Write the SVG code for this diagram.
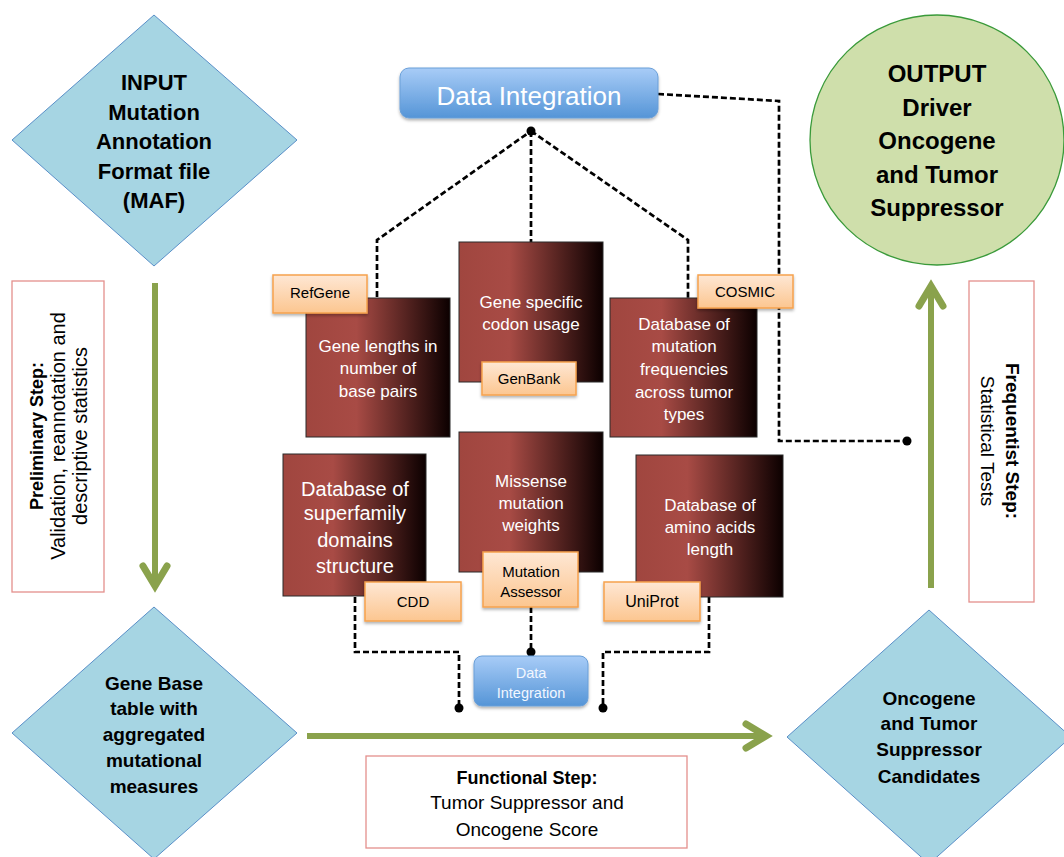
<svg xmlns="http://www.w3.org/2000/svg" width="1064" height="857" viewBox="0 0 1064 857">
<defs>
<linearGradient id="red" x1="0" y1="0" x2="1" y2="0">
<stop offset="0" stop-color="#a0463f"/>
<stop offset="0.35" stop-color="#a84b45"/>
<stop offset="1" stop-color="#0c0000"/>
</linearGradient>
<linearGradient id="orange" x1="0" y1="0" x2="0" y2="1">
<stop offset="0" stop-color="#fee7d4"/>
<stop offset="1" stop-color="#fcc690"/>
</linearGradient>
<linearGradient id="blue" x1="0" y1="0" x2="0" y2="1">
<stop offset="0" stop-color="#a8ccf7"/>
<stop offset="1" stop-color="#5595d7"/>
</linearGradient>
<filter id="sh" x="-10%" y="-10%" width="130%" height="140%">
<feDropShadow dx="0" dy="2" stdDeviation="1.5" flood-opacity="0.3"/>
</filter>
<style>
.dash{fill:none;stroke:#000;stroke-width:2.7;stroke-dasharray:6 3}
.dot{fill:#000}
.dia{fill:#a6d5e3;stroke:#5a8fc8;stroke-width:1}
.rbox{fill:url(#red);stroke:#2a2a2a;stroke-width:1}
.obox{fill:url(#orange);stroke:#f6a24e;stroke-width:1.5;filter:url(#sh)}
.bbox{fill:url(#blue);stroke:#6a9fd8;stroke-width:1;filter:url(#sh)}
.step{fill:#fff;stroke:#e4908d;stroke-width:1.3}
.arr{fill:none;stroke:#8aa24c;stroke-width:6}
.head{fill:none;stroke:#8aa24c;stroke-width:7;stroke-linecap:round;stroke-linejoin:miter}
.t{font-family:"Liberation Sans",Arial,sans-serif;text-anchor:middle;fill:#000}
.b{font-weight:bold}
.w{fill:#fff}
</style>
</defs>
<rect width="1064" height="857" fill="#fff"/>

<g id="connectors">
<polyline class="dash" points="377,297 377,240 531,131"/>
<polyline class="dash" points="531,131 531,242"/>
<polyline class="dash" points="531,131 688,240 688,298"/>
<polyline class="dash" points="658,94 779,101 779,441 907,441"/>
<circle class="dot" cx="531" cy="131" r="4.5"/>
<circle class="dot" cx="907" cy="441" r="4.5"/>
<polyline class="dash" points="355,597 355,652 459,652 459,708"/>
<polyline class="dash" points="531,607 531,656"/>
<polyline class="dash" points="709,597 709,652 603,652 603,708"/>
<circle class="dot" cx="459" cy="708" r="4.5"/>
<circle class="dot" cx="531" cy="652" r="4.5"/>
<circle class="dot" cx="603" cy="708" r="4.5"/>
<g id="arrows">
<line class="arr" x1="155" y1="283" x2="155" y2="584"/>
<polyline class="head" points="143,566 155,586 167,566"/>
<line class="arr" x1="307" y1="736" x2="764" y2="736"/>
<polyline class="head" points="746,724 766,736 746,748"/>
<line class="arr" x1="931" y1="588" x2="931" y2="289"/>
<polyline class="head" points="919,306 931,286 943,306"/>
</g>
</g>

<g id="input">
<polygon class="dia" points="154,15 297,140 154,266 12,140"/>
<text class="t b" font-size="22"><tspan x="154" y="90">INPUT</tspan><tspan x="154" y="120">Mutation</tspan><tspan x="154" y="149">Annotation</tspan><tspan x="154" y="179">Format file</tspan><tspan x="154" y="208">(MAF)</tspan></text>
</g>

<g id="output">
<ellipse cx="937" cy="140" rx="127" ry="125" fill="#cfdfab" stroke="#3a9a3a" stroke-width="1.3"/>
<text class="t b" font-size="24"><tspan x="937" y="82">OUTPUT</tspan><tspan x="937" y="116">Driver</tspan><tspan x="937" y="149">Oncogene</tspan><tspan x="937" y="183">and Tumor</tspan><tspan x="937" y="216">Suppressor</tspan></text>
</g>

<g id="data-integration-top">
<rect class="bbox" x="400" y="68" width="258" height="50" rx="9"/>
<text class="t w" font-size="26" x="529" y="105">Data Integration</text>
</g>

<g id="gene-lengths">
<rect class="rbox" x="306" y="298" width="144" height="139"/>
<text class="t w" font-size="17"><tspan x="378" y="352">Gene lengths in</tspan><tspan x="378" y="374">number of</tspan><tspan x="378" y="397">base pairs</tspan></text>
</g>
<g id="refgene">
<rect class="obox" x="273" y="275" width="94" height="38"/>
<text class="t" font-size="15" x="320" y="298">RefGene</text>
</g>

<g id="codon-usage">
<rect class="rbox" x="459" y="242" width="144" height="140"/>
<text class="t w" font-size="17"><tspan x="531" y="308">Gene specific</tspan><tspan x="531" y="330">codon usage</tspan></text>
</g>
<g id="genbank">
<rect class="obox" x="482" y="362" width="94" height="33"/>
<text class="t" font-size="15" x="529" y="384">GenBank</text>
</g>

<g id="mutation-frequencies">
<rect class="rbox" x="610" y="298" width="147" height="139"/>
<text class="t w" font-size="17"><tspan x="684" y="330">Database of</tspan><tspan x="684" y="352">mutation</tspan><tspan x="684" y="375">frequencies</tspan><tspan x="684" y="398">across tumor</tspan><tspan x="684" y="420">types</tspan></text>
</g>
<g id="cosmic">
<rect class="obox" x="698" y="275" width="95" height="33"/>
<text class="t" font-size="15" x="745" y="297">COSMIC</text>
</g>

<g id="superfamily">
<rect class="rbox" x="283" y="454" width="143" height="142"/>
<text class="t w" font-size="20"><tspan x="355" y="496">Database of</tspan><tspan x="355" y="520">superfamily</tspan><tspan x="355" y="547">domains</tspan><tspan x="355" y="573">structure</tspan></text>
</g>
<g id="cdd">
<rect class="obox" x="365" y="582" width="96" height="39"/>
<text class="t" font-size="15" x="413" y="607">CDD</text>
</g>

<g id="missense">
<rect class="rbox" x="459" y="432" width="144" height="140"/>
<text class="t w" font-size="17"><tspan x="531" y="487">Missense</tspan><tspan x="531" y="509">mutation</tspan><tspan x="531" y="531">weights</tspan></text>
</g>
<g id="mutation-assessor">
<rect class="obox" x="483" y="552" width="95" height="55"/>
<text class="t" font-size="15"><tspan x="531" y="577">Mutation</tspan><tspan x="531" y="597">Assessor</tspan></text>
</g>

<g id="amino-acids">
<rect class="rbox" x="636" y="455" width="147" height="142"/>
<text class="t w" font-size="17"><tspan x="710" y="511">Database of</tspan><tspan x="710" y="533">amino acids</tspan><tspan x="710" y="555">length</tspan></text>
</g>
<g id="uniprot">
<rect class="obox" x="604" y="582" width="96" height="39"/>
<text class="t" font-size="16" x="652" y="607">UniProt</text>
</g>

<g id="data-integration-small">
<rect class="bbox" x="474" y="656" width="114" height="50" rx="8"/>
<text class="t" font-size="14.5" style="fill:#f2f7ff"><tspan x="531" y="678">Data</tspan><tspan x="531" y="698">Integration</tspan></text>
</g>

<g id="preliminary-step">
<rect class="step" x="12" y="281" width="92" height="311"/>
<text class="t b" font-size="18" transform="translate(43,436) rotate(-90)" x="0" y="0">Preliminary Step:</text>
<text class="t" font-size="20" transform="translate(65,436) rotate(-90)" x="0" y="0">Validation, reannotation and</text>
<text class="t" font-size="20" transform="translate(87,436) rotate(-90)" x="0" y="0">descriptive statistics</text>
</g>

<g id="frequentist-step">
<rect class="step" x="969" y="281" width="65" height="321"/>
<text class="t b" font-size="19" transform="translate(1006,441) rotate(90)" x="0" y="0">Frequentist Step:</text>
<text class="t" font-size="19" transform="translate(981,441) rotate(90)" x="0" y="0">Statistical Tests</text>
</g>

<g id="gene-base">
<polygon class="dia" points="154,607 297,733 154,859 12,733"/>
<text class="t b" font-size="19"><tspan x="154" y="690">Gene Base</tspan><tspan x="154" y="715">table with</tspan><tspan x="154" y="741">aggregated</tspan><tspan x="154" y="767">mutational</tspan><tspan x="154" y="793">measures</tspan></text>
</g>

<g id="candidates">
<polygon class="dia" points="929,610 1071,737 929,864 787,737"/>
<text class="t b" font-size="19"><tspan x="929" y="705">Oncogene</tspan><tspan x="929" y="730">and Tumor</tspan><tspan x="929" y="756">Suppressor</tspan><tspan x="929" y="783">Candidates</tspan></text>
</g>

<g id="functional-step">
<rect class="step" x="366" y="756" width="321" height="92"/>
<text class="t b" font-size="18" x="527" y="784">Functional Step:</text>
<text class="t" font-size="19"><tspan x="527" y="809">Tumor Suppressor and</tspan><tspan x="527" y="836">Oncogene Score</tspan></text>
</g>
</svg>
